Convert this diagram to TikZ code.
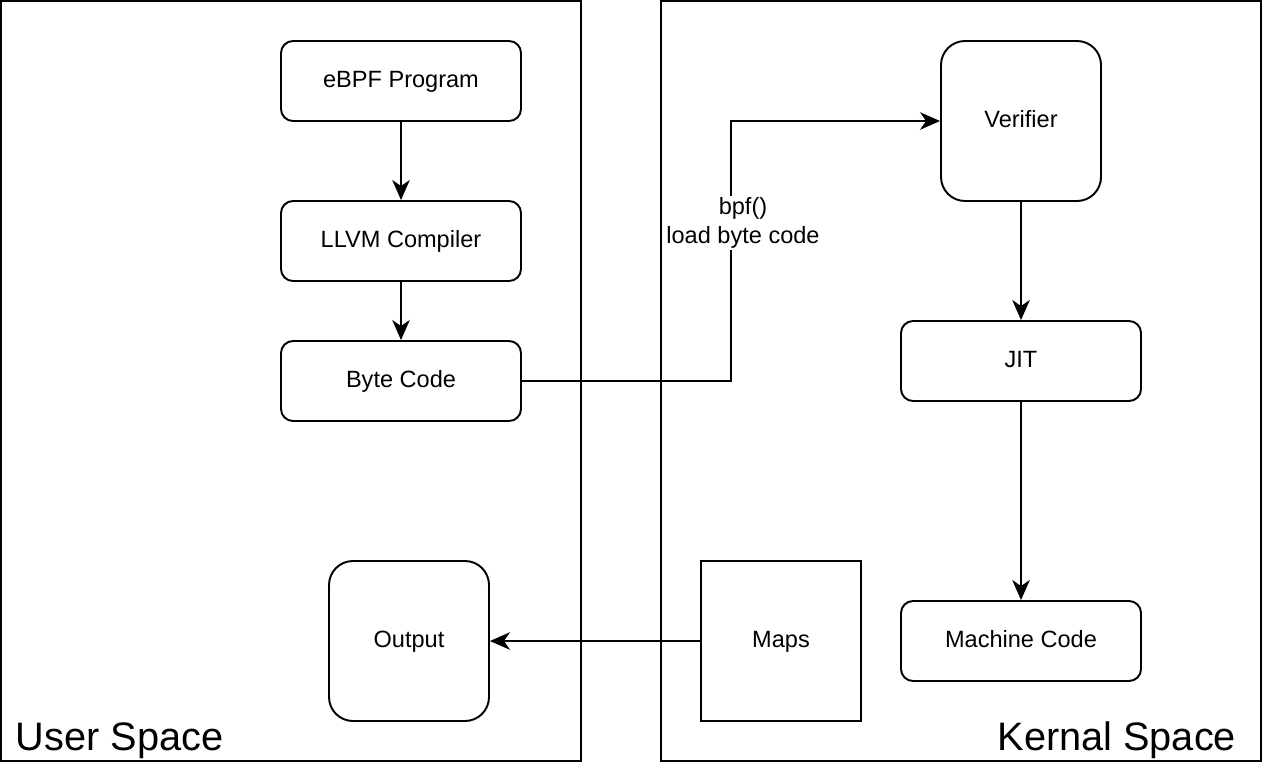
\documentclass[tikz,border=0pt]{standalone}
\usepackage{fontspec}
\setmainfont{Liberation Sans}
\usetikzlibrary{arrows.meta, positioning}

\tikzset{
  spacebox/.style={draw, line width=1.1pt, minimum width=#1, minimum height=15.2cm, inner sep=0pt},
  boxtext/.style={font=\fontsize{13.4}{16}\selectfont, text height=1.38ex, text depth=0pt},
  stepbox/.style={draw, line width=1.1pt, rounded corners=0.24cm, minimum width=4.8cm, minimum height=1.6cm, boxtext},
  squarebox/.style={draw, line width=1.1pt, rounded corners=0.48cm, minimum width=3.2cm, minimum height=3.2cm, boxtext},
  plainbox/.style={draw, line width=1.1pt, minimum width=3.2cm, minimum height=3.2cm, boxtext},
  spacelabel/.style={font=\fontsize{22.6}{27}\selectfont, inner sep=0pt}
}

\begin{document}
\begin{tikzpicture}[>={Stealth[length=4mm, width=3.5mm, inset=1.2mm]}, line width=1.1pt]

\useasboundingbox (0,0) rectangle (25.24,-15.24);

% --- Spaces ---
\node[spacebox=11.6cm] (userspace) at (5.82,-7.62) {};
\node[spacebox=12cm] (kernalspace) at (19.22,-7.62) {};
\node[spacelabel, anchor=base west] (userlabel) at (0.30,-15.0) {User Space};
\node[spacelabel, anchor=base east] (kernallabel) at (24.74,-15.0) {Kernal Space};

% --- User side ---
\node[stepbox] (ebpf) at (8.02,-1.62) {eBPF Program};
\node[stepbox] (llvm) at (8.02,-4.82) {LLVM Compiler};
\node[stepbox] (bytecode) at (8.02,-7.62) {Byte Code};
\node[squarebox] (output) at (8.18,-12.82) {Output};

% --- Kernel side ---
\node[squarebox] (verifier) at (20.42,-2.42) {Verifier};
\node[stepbox] (jit) at (20.42,-7.22) {JIT};
\node[stepbox] (machine) at (20.42,-12.82) {Machine Code};
\node[plainbox] (maps) at (15.62,-12.82) {Maps};

% --- Connectors ---
\draw[->] (ebpf) -- (llvm);
\draw[->] (llvm) -- (bytecode);
\coordinate (turn) at (14.62,-7.62);
\draw[->] (bytecode) -- (turn) |- (verifier);
\node[fill=white, align=center, inner sep=1pt, font=\fontsize{13.4}{16.4}\selectfont] (bpflabel) at (14.86,-4.46)
  {bpf()\\load byte code};
\draw[->] (verifier) -- (jit);
\draw[->] (jit) -- (machine);
\draw[->] (maps) -- (output);

\end{tikzpicture}
\end{document}
